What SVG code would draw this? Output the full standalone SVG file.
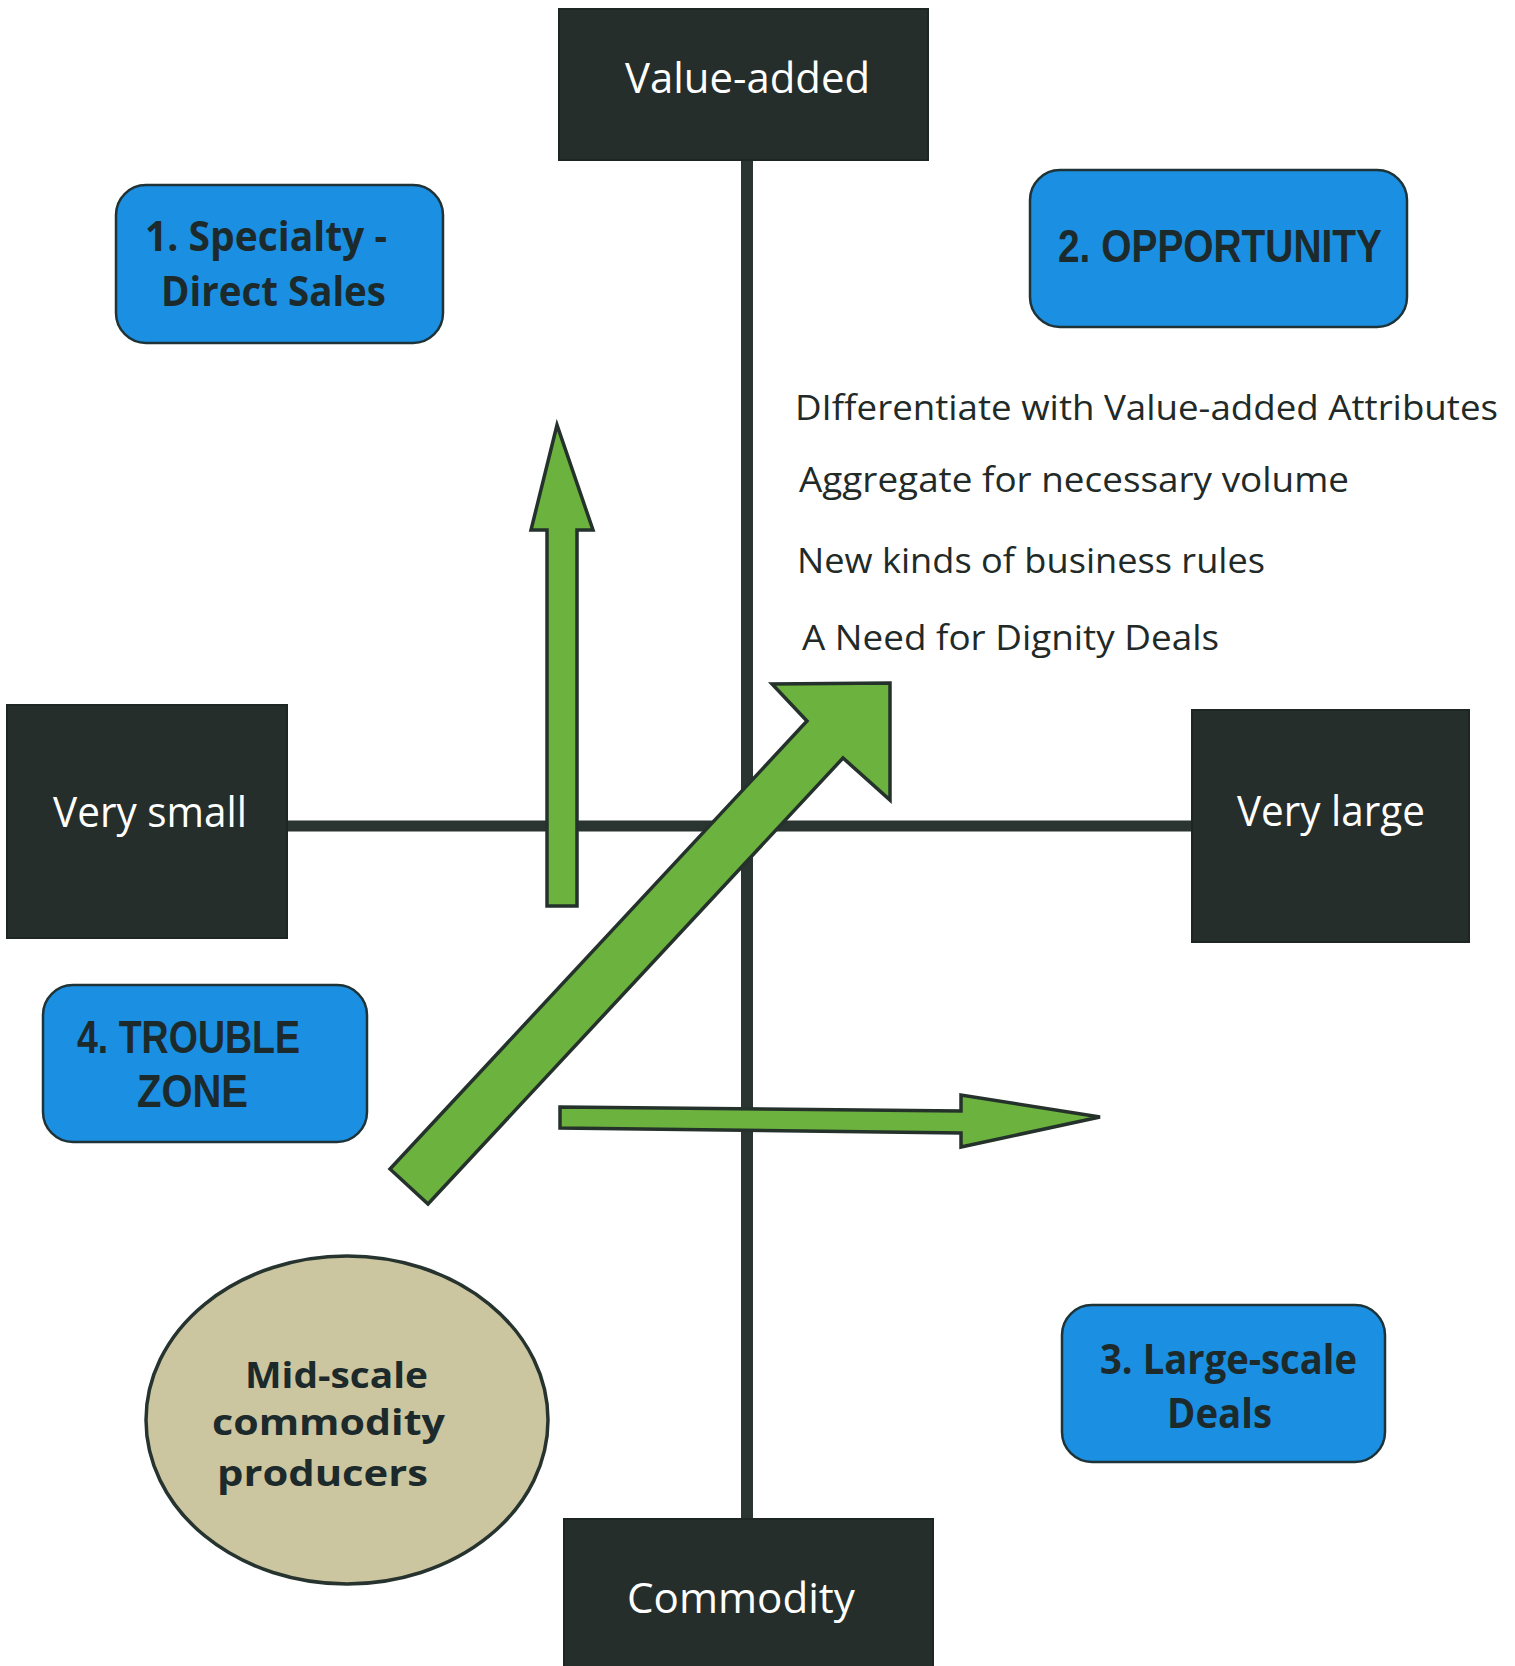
<svg xmlns="http://www.w3.org/2000/svg" width="1515" height="1666" viewBox="0 0 1515 1666">
<style>
.dark{fill:#252e2b;stroke:#1e2623;stroke-width:2}
.dtxt{font-family:"Open Sans","Noto Sans",sans-serif;font-size:42px;fill:#ffffff;text-anchor:start}
.blue{fill:#1b8fe2;stroke:#1f3438;stroke-width:2.5}
.btxt{font-family:"Open Sans","Noto Sans",sans-serif;font-weight:bold;font-size:41px;fill:#1d2a2c}
.otxt{font-family:"Open Sans","Noto Sans",sans-serif;font-weight:bold;font-size:36px;fill:#1d2a2c}
.atxt{font-family:"Liberation Sans",Arial,sans-serif;font-weight:bold;font-size:47px;fill:#1d2a2c}
.axis{stroke:#2a3431;stroke-width:12;fill:none}
.arrow{fill:#6cb23e;stroke:#25322c;stroke-width:3.5;stroke-linejoin:miter}
.note{font-family:"Open Sans","Noto Sans",sans-serif;font-size:34px;fill:#222a28}
.oval{fill:#cbc6a0;stroke:#26332e;stroke-width:3.5}
</style>
<rect width="1515" height="1666" fill="#ffffff"/>
<g id="connectors">
  <line class="axis" x1="747" y1="158" x2="747" y2="1520"/>
  <line class="axis" x1="286" y1="826" x2="1193" y2="826" style="stroke-width:11"/>
  <polygon class="arrow" points="547,906 547,530 531,530 557,425 593,530 577,530 577,906"/>
  <polygon class="arrow" points="390,1169 807,721 772,684 890,683 890,800 843,758 428,1204"/>
  <polygon class="arrow" points="560,1107 961,1111 961,1095 1100,1117 961,1147 961,1133 560,1128"/>
</g>
<g id="node-value-added">
  <rect class="dark" x="559" y="9" width="369" height="151"/>
  <text class="dtxt" x="625" y="93" textLength="245" lengthAdjust="spacingAndGlyphs">Value-added</text>
</g>
<g id="node-very-small">
  <rect class="dark" x="7" y="705" width="280" height="233"/>
  <text class="dtxt" x="53" y="827" textLength="194" lengthAdjust="spacingAndGlyphs">Very small</text>
</g>
<g id="node-very-large">
  <rect class="dark" x="1192" y="710" width="277" height="232"/>
  <text class="dtxt" x="1237" y="826" textLength="188" lengthAdjust="spacingAndGlyphs">Very large</text>
</g>
<g id="node-commodity">
  <rect class="dark" x="564" y="1519" width="369" height="160"/>
  <text class="dtxt" x="627" y="1613" textLength="228" lengthAdjust="spacingAndGlyphs">Commodity</text>
</g>
<g id="node-specialty">
  <rect class="blue" x="116" y="185" width="327" height="158" rx="30" ry="30"/>
  <text class="btxt" x="145" y="251" textLength="242" lengthAdjust="spacingAndGlyphs">1. Specialty -</text>
  <text class="btxt" x="161" y="306" textLength="225" lengthAdjust="spacingAndGlyphs">Direct Sales</text>
</g>
<g id="node-opportunity">
  <rect class="blue" x="1030" y="170" width="377" height="157" rx="30" ry="30"/>
  <text class="atxt" x="1058" y="262" textLength="324" lengthAdjust="spacingAndGlyphs">2. OPPORTUNITY</text>
</g>
<g id="node-opportunity-notes">
  <text class="note" x="795" y="420" textLength="703" lengthAdjust="spacingAndGlyphs">DIfferentiate with Value-added Attributes</text>
  <text class="note" x="799" y="492" textLength="550" lengthAdjust="spacingAndGlyphs">Aggregate for necessary volume</text>
  <text class="note" x="797" y="573" textLength="468" lengthAdjust="spacingAndGlyphs">New kinds of business rules</text>
  <text class="note" x="802" y="650" textLength="417" lengthAdjust="spacingAndGlyphs">A Need for Dignity Deals</text>
</g>
<g id="node-trouble-zone">
  <rect class="blue" x="43" y="985" width="324" height="157" rx="30" ry="30"/>
  <text class="atxt" x="77" y="1053" textLength="223" lengthAdjust="spacingAndGlyphs">4. TROUBLE</text>
  <text class="atxt" x="137" y="1107" textLength="111" lengthAdjust="spacingAndGlyphs">ZONE</text>
</g>
<g id="node-large-scale">
  <rect class="blue" x="1062" y="1305" width="323" height="157" rx="30" ry="30"/>
  <text class="btxt" x="1100" y="1374" textLength="257" lengthAdjust="spacingAndGlyphs">3. Large-scale</text>
  <text class="btxt" x="1167" y="1428" textLength="105" lengthAdjust="spacingAndGlyphs">Deals</text>
</g>
<g id="node-mid-scale">
  <ellipse class="oval" cx="347" cy="1420" rx="201" ry="164"/>
  <text class="otxt" x="245" y="1388" textLength="183" lengthAdjust="spacingAndGlyphs">Mid-scale</text>
  <text class="otxt" x="212" y="1435" textLength="233" lengthAdjust="spacingAndGlyphs">commodity</text>
  <text class="otxt" x="217" y="1486" textLength="211" lengthAdjust="spacingAndGlyphs">producers</text>
</g>
</svg>
